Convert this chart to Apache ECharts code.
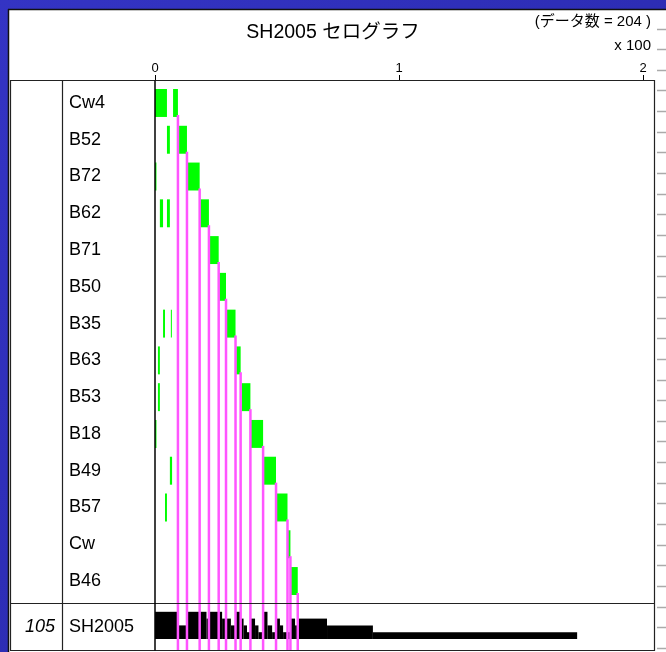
<!DOCTYPE html>
<html>
<head>
<meta charset="utf-8">
<script src="https://cdn.jsdelivr.net/npm/echarts@6/dist/echarts.min.js"></script>
<style>
html,body{margin:0;padding:0;background:#2f2fb6;}
#c{width:666px;height:652px;}
</style>
</head>
<body>
<div id="c"></div>
<script>
// ---- data ----
const titleText = 'SH2005 セログラフ';
const dataCount = 204;
const scaleText = 'x 100';
const sampleName = 'SH2005';
const sampleNo = 105;
const rowLabels = ['Cw4','B52','B72','B62','B71','B50','B35','B63','B53','B18','B49','B57','Cw','B46'];
const tickValues = [0, 100, 200];
// green segments (raw units, axis shown x100)
const segRow   = [0,   0,   1,   1,   2,   2,    3,   3,   3,    4,    5,    6,   6,   6,    7,   7,    8,   8,    9,   9,    10,  10,   11,  11,   12,   13];
const segStart = [0,   7.4, 4.9, 9.6, 0,   13.3, 2.0, 4.9, 18.5, 22.3, 26.3, 3.3, 6.5, 29.4, 1.2, 33.3, 1.2, 35.5, 0,   39.3, 6.1, 44.5, 4.1, 49.9, 54.4, 55.7];
const segEnd   = [4.9, 9.4, 6.1, 13.1,0.6, 18.3, 3.3, 6.1, 22.1, 26.1, 29.1, 4.1, 6.8, 33.0, 2.0, 35.1, 2.0, 39.1, 0.6, 44.3, 7.0, 49.6, 4.9, 54.3, 55.5, 58.5];
// histogram of the sample
const histEdges  = [0, 9.6, 13.1, 21.1, 22.3, 27.5, 31.1, 33.2, 35.0, 36.3, 37.7, 39.1, 41.0, 42.4, 44.3, 46.1, 48.0, 49.6, 51.2, 52.5, 55.5, 57.4, 58.4, 70.5, 89.3, 173.0];
const histCounts = [4, 2, 4, 3, 4, 3, 2, 4, 3, 2, 1, 3, 2, 1, 4, 2, 1, 3, 2, 1, 3, 2, 3, 2, 1];

// ---- derived ----
const segData = segRow.map((r, i) => [segStart[i], segEnd[i], r]);
const rowEnd = rowLabels.map((_, r) => Math.max(...segEnd.filter((e, i) => segRow[i] === r)));
const lineData = rowEnd.map((e, r) => [e, r]);
const histData = histCounts.map((c, i) => [histEdges[i], histEdges[i + 1], c]);

const FONT = "'Liberation Sans', Arial, 'Noto Sans CJK JP', sans-serif";
const BAR_RATIO = 0.76;
const BOTTOM_Y = 650;

const chart = echarts.init(document.getElementById('c'), null, {width: 666, height: 652, renderer: 'canvas'});

const option = {
  animation: false,
  backgroundColor: {type: 'linear', x: 0, y: 0, x2: 1, y2: 1, colorStops: [{offset: 0, color: '#3434c4'}, {offset: 1, color: '#2626a6'}]},
  grid: [
    {left: 155, right: 12, top: 84.6, bottom: 52.6},
    {left: 155, right: 12, top: 605, bottom: 13}
  ],
  xAxis: [
    {gridIndex: 0, type: 'value', min: 0, max: 204.5, position: 'top', offset: 4.6,
     axisLine: {show: false}, splitLine: {show: false},
     axisTick: {show: true, length: 5, customValues: tickValues, lineStyle: {color: '#000', width: 1}},
     axisLabel: {customValues: tickValues, formatter: v => String(v / 100), margin: 5, color: '#000', fontSize: 13, fontFamily: FONT}},
    {gridIndex: 1, type: 'value', min: 0, max: 204.5, show: false}
  ],
  yAxis: [
    {gridIndex: 0, type: 'category', data: rowLabels, inverse: true,
     axisLine: {show: false}, axisTick: {show: false}, splitLine: {show: false},
     axisLabel: {align: 'left', margin: 86, color: '#000', fontSize: 18, fontFamily: FONT}},
    {gridIndex: 1, type: 'value', min: 0, max: 5, show: false}
  ],
  series: [
    {
      type: 'custom', xAxisIndex: 0, yAxisIndex: 0, z: 3,
      data: segData, encode: {x: [0, 1], y: 2},
      renderItem: (params, api) => {
        const p0 = api.coord([api.value(0), api.value(2)]);
        const p1 = api.coord([api.value(1), api.value(2)]);
        const h = api.size([0, 1])[1] * BAR_RATIO;
        return {type: 'rect', shape: {x: p0[0], y: p0[1] - h / 2, width: Math.max(1, p1[0] - p0[0]), height: h},
                style: {fill: '#00ff00'}};
      }
    },
    {
      type: 'custom', xAxisIndex: 1, yAxisIndex: 1, z: 3,
      data: histData, encode: {x: [0, 1], y: 2},
      renderItem: (params, api) => {
        const p0 = api.coord([api.value(0), api.value(2)]);
        const p1 = api.coord([api.value(1), 0]);
        return {type: 'rect', shape: {x: p0[0], y: p0[1], width: p1[0] - p0[0], height: p1[1] - p0[1]},
                style: {fill: '#000'}};
      }
    },
    {
      type: 'custom', xAxisIndex: 0, yAxisIndex: 0, z: 5, clip: false,
      data: lineData, encode: {x: 0, y: 1},
      renderItem: (params, api) => {
        const p = api.coord([api.value(0), api.value(1)]);
        const h = api.size([0, 1])[1] * BAR_RATIO;
        return {type: 'line', shape: {x1: p[0], y1: p[1] + h / 2 - 2, x2: p[0], y2: BOTTOM_Y},
                style: {stroke: '#ff55ff', lineWidth: 2.5}};
      }
    }
  ]
};
chart.setOption(option);

const zeroX = chart.convertToPixel({xAxisIndex: 0}, 0);
const graphics = [];
// white panel
graphics.push({type: 'rect', z: -10, shape: {x: 9, y: 10, width: 660, height: 645}, style: {fill: '#ffffff'}});
graphics.push({type: 'line', z: -9, shape: {x1: 8.5, y1: 9, x2: 8.5, y2: 652}, style: {stroke: '#111', lineWidth: 1.5}});
graphics.push({type: 'line', z: -9, shape: {x1: 8, y1: 9.5, x2: 666, y2: 9.5}, style: {stroke: '#111', lineWidth: 1.5}});
// right side ruler dashes
for (let y = 28.5; y < 652; y += 20.65) {
  graphics.push({type: 'line', z: -8, shape: {x1: 657, y1: Math.round(y) + 0.5, x2: 666, y2: Math.round(y) + 0.5}, style: {stroke: '#aaaaaa', lineWidth: 1.5}});
}
// table frame
const L = 10.5, R = 654.5, T = 80.5, B = 650.5, SEP_Y = 603.5, COL_X = 62.5;
graphics.push({type: 'rect', z: 20, shape: {x: L, y: T, width: R - L, height: B - T}, style: {fill: null, stroke: '#222', lineWidth: 1.2}});
graphics.push({type: 'line', z: 20, shape: {x1: L, y1: SEP_Y, x2: R, y2: SEP_Y}, style: {stroke: '#222', lineWidth: 1.2}});
graphics.push({type: 'line', z: 20, shape: {x1: COL_X, y1: T, x2: COL_X, y2: B}, style: {stroke: '#222', lineWidth: 1.2}});
graphics.push({type: 'line', z: 20, shape: {x1: zeroX, y1: T, x2: zeroX, y2: B}, style: {stroke: '#000', lineWidth: 1.5}});
// texts
graphics.push({type: 'text', z: 20, x: 333, y: 33, style: {text: titleText, fontSize: 19.5, fontFamily: FONT, fill: '#000', align: 'center', verticalAlign: 'middle'}});
graphics.push({type: 'text', z: 20, x: 651, y: 22, style: {text: '(データ数 = ' + dataCount + ' )', fontSize: 15, fontFamily: FONT, fill: '#000', align: 'right', verticalAlign: 'middle'}});
graphics.push({type: 'text', z: 20, x: 651, y: 46, style: {text: scaleText, fontSize: 15, fontFamily: FONT, fill: '#000', align: 'right', verticalAlign: 'middle'}});
graphics.push({type: 'text', z: 20, x: 69, y: 627, style: {text: sampleName, fontSize: 18, fontFamily: FONT, fill: '#000', align: 'left', verticalAlign: 'middle'}});
graphics.push({type: 'text', z: 20, x: 55, y: 627, style: {text: String(sampleNo), fontSize: 18, fontStyle: 'italic', fontFamily: FONT, fill: '#000', align: 'right', verticalAlign: 'middle'}});
chart.setOption({graphic: {elements: graphics}});
</script>
</body>
</html>
